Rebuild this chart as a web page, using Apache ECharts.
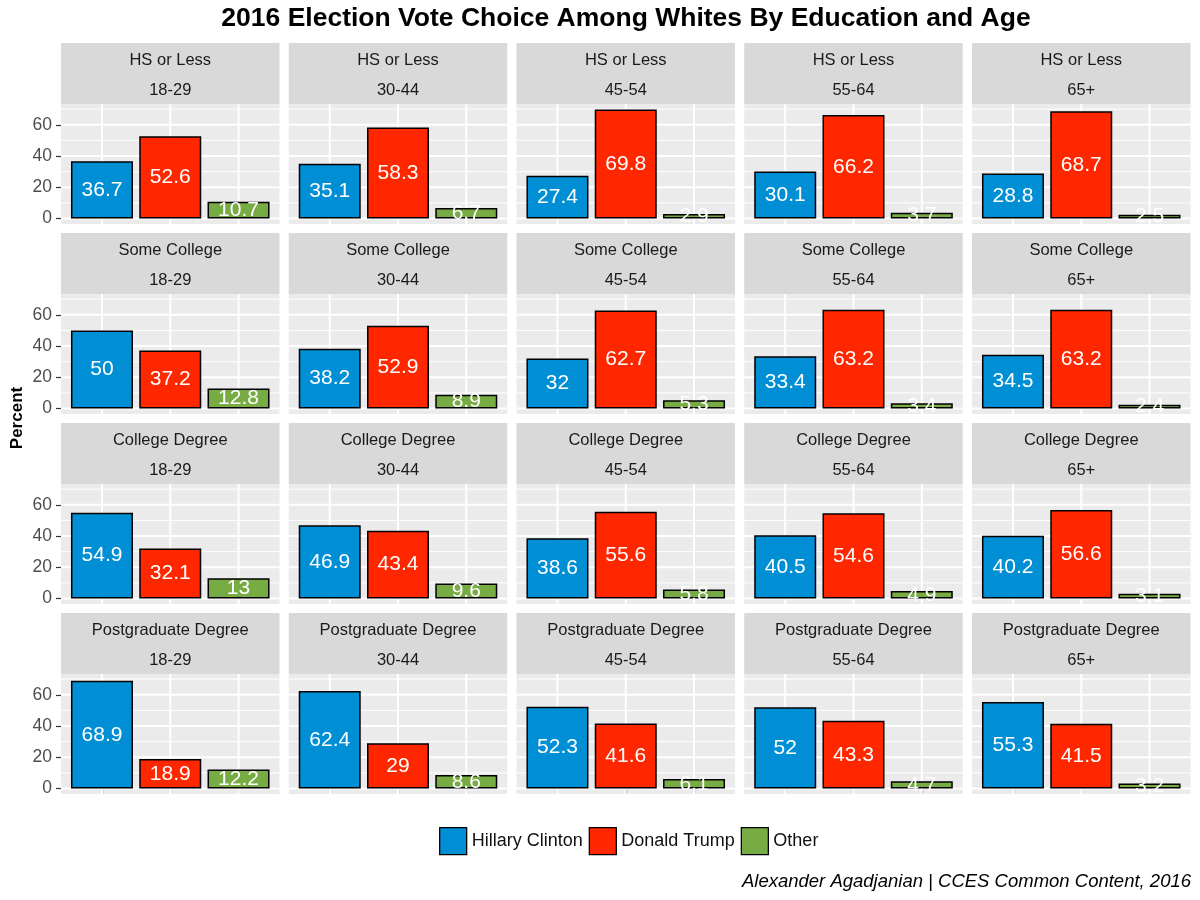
<!DOCTYPE html>
<html>
<head>
<meta charset="utf-8">
<script src="https://cdn.jsdelivr.net/npm/echarts@6/dist/echarts.min.js"></script>
<style>
html,body{margin:0;padding:0;background:#fff;}
#chart{width:1200px;height:900px;}
</style>
</head>
<body>
<div id="chart"></div>
<script>
// ---- data ----
const educationLevels = ['HS or Less', 'Some College', 'College Degree', 'Postgraduate Degree'];
const ageGroups = ['18-29', '30-44', '45-54', '55-64', '65+'];
const candidates = ['Hillary Clinton', 'Donald Trump', 'Other'];
const clintonPct = [
  [36.7, 35.1, 27.4, 30.1, 28.8],
  [50, 38.2, 32, 33.4, 34.5],
  [54.9, 46.9, 38.6, 40.5, 40.2],
  [68.9, 62.4, 52.3, 52, 55.3]
];
const trumpPct = [
  [52.6, 58.3, 69.8, 66.2, 68.7],
  [37.2, 52.9, 62.7, 63.2, 63.2],
  [32.1, 43.4, 55.6, 54.6, 56.6],
  [18.9, 29, 41.6, 43.3, 41.5]
];
const otherPct = [
  [10.7, 6.7, 2.9, 3.7, 2.5],
  [12.8, 8.9, 5.3, 3.4, 2.4],
  [13, 9.6, 5.8, 4.9, 3.1],
  [12.2, 8.6, 6.1, 4.7, 3.2]
];
const yTickValues = [0, 20, 40, 60];
const yMinorValues = [10, 30, 50, 70];
const xPositions = [1, 2, 3];

// ---- styles / layout ----
const colors = ['#008FD5', '#FF2700', '#77AB43'];
const FONT = 'Liberation Sans, Arial, Helvetica, sans-serif';
const panelLeft0 = 61, panelStep = 227.75, panelW = 218.5;
const stripTop0 = 43, rowStep = 190, stripH = 61, plotH = 120;

const allVals = [].concat(...clintonPct, ...trumpPct, ...otherPct);
const dataMax = Math.max(...allVals);
const yMin = -0.05 * dataMax, yMax = dataMax * 1.05;

const seriesByCand = [clintonPct, trumpPct, otherPct];

const grid = [], xAxis = [], yAxis = [], series = [], graphic = [];

educationLevels.forEach((edu, r) => {
  ageGroups.forEach((age, c) => {
    const k = r * ageGroups.length + c;
    const left = panelLeft0 + c * panelStep;
    const stripTop = stripTop0 + r * rowStep;
    const plotTop = stripTop + stripH;
    grid.push({
      left: left, top: plotTop, width: panelW, height: plotH,
      show: true, backgroundColor: '#EBEBEB', borderWidth: 0, containLabel: false
    });
    const bottomRow = r === educationLevels.length - 1;
    const leftCol = c === 0;
    xAxis.push({
      type: 'value', gridIndex: k, min: 0.4, max: 3.6,
      axisLine: { show: false }, splitLine: { show: false },
      axisLabel: { show: false },
      axisTick: { show: bottomRow, customValues: xPositions, length: 5, lineStyle: { color: '#333', width: 1.2 } }
    });
    yAxis.push({
      type: 'value', gridIndex: k, min: yMin, max: yMax,
      axisLine: { show: false }, splitLine: { show: false },
      axisLabel: { show: leftCol, customValues: yTickValues, color: '#4D4D4D', fontSize: 17.5, fontFamily: FONT, margin: 9 },
      axisTick: { show: leftCol, customValues: yTickValues, length: 5, lineStyle: { color: '#333', width: 1.2 } }
    });
    // grid lines
    const gl = [];
    yMinorValues.forEach(v => gl.push([0, v, 1]));
    yTickValues.forEach(v => gl.push([0, v, 2]));
    xPositions.forEach(v => gl.push([1, v, 2]));
    series.push({
      type: 'custom', xAxisIndex: k, yAxisIndex: k, silent: true, z: 1,
      data: gl,
      renderItem: function (params, api) {
        const cs = params.coordSys;
        const orient = api.value(0), v = api.value(1), w = api.value(2) === 2 ? 2 : 1;
        let shape;
        if (orient === 0) {
          const y = api.coord([1, v])[1];
          shape = { x1: cs.x, y1: y, x2: cs.x + cs.width, y2: y };
        } else {
          const x = api.coord([v, 0])[0];
          shape = { x1: x, y1: cs.y, x2: x, y2: cs.y + cs.height };
        }
        return { type: 'line', shape: shape, style: { stroke: '#FFFFFF', lineWidth: w } };
      }
    });
    candidates.forEach((cand, j) => {
      series.push({
        type: 'bar', name: cand, xAxisIndex: k, yAxisIndex: k, stack: 'p' + k, z: 3,
        barWidth: 62,
        data: [[xPositions[j], seriesByCand[j][r][c]]],
        itemStyle: { color: colors[j], borderColor: '#000', borderWidth: 1.5 },
        label: {
          show: true, position: 'inside', color: '#fff', fontSize: 21, fontFamily: FONT,
          formatter: p => String(p.value[1])
        }
      });
    });
    // strip
    graphic.push({ type: 'rect', shape: { x: left, y: stripTop, width: panelW, height: stripH }, style: { fill: '#D9D9D9' }, silent: true });
    graphic.push({ type: 'text', style: { text: edu, x: left + panelW / 2, y: stripTop + 17, textAlign: 'center', textVerticalAlign: 'middle', font: '16.5px ' + FONT, fill: '#1A1A1A' }, silent: true });
    graphic.push({ type: 'text', style: { text: age, x: left + panelW / 2, y: stripTop + 47.5, textAlign: 'center', textVerticalAlign: 'middle', font: '16.5px ' + FONT, fill: '#1A1A1A' }, silent: true });
  });
});

graphic.push({ type: 'text', style: { text: '2016 Election Vote Choice Among Whites By Education and Age', x: 626, y: 19, textAlign: 'center', textVerticalAlign: 'middle', font: 'bold 26.5px ' + FONT, fill: '#000' } });
graphic.push({ type: 'text', x: 17, y: 418, rotation: Math.PI / 2, style: { text: 'Percent', x: 0, y: 0, textAlign: 'center', textVerticalAlign: 'middle', font: 'bold 17px ' + FONT, fill: '#000' } });
graphic.push({ type: 'text', style: { text: 'Alexander Agadjanian | CCES Common Content, 2016', x: 1191, y: 882, textAlign: 'right', textVerticalAlign: 'middle', font: 'italic 18.5px ' + FONT, fill: '#000' } });

const chart = echarts.init(document.getElementById('chart'), null, { renderer: 'canvas' });
chart.setOption({
  backgroundColor: '#fff',
  animation: false,
  grid: grid, xAxis: xAxis, yAxis: yAxis, series: series, graphic: graphic,
  legend: {
    data: candidates, left: 434, top: 822, itemWidth: 27, itemHeight: 27, itemGap: 6,
    icon: 'rect',
    itemStyle: { borderColor: '#000', borderWidth: 1.3 },
    textStyle: { fontSize: 18, color: '#111', fontFamily: FONT }
  }
});
</script>
</body>
</html>
